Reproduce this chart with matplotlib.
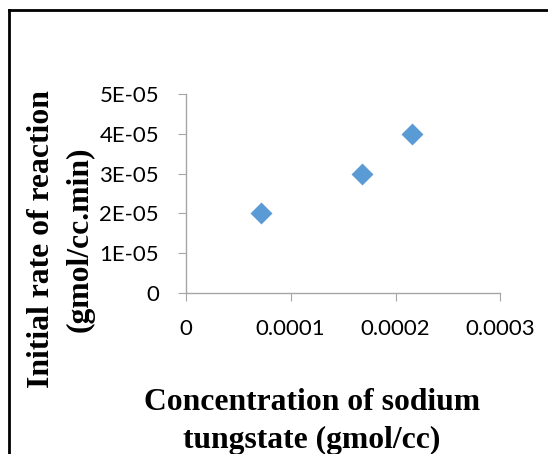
import matplotlib
matplotlib.use("Agg")
import matplotlib.pyplot as plt
from matplotlib.lines import Line2D

# Data
concentration = [0.0000715, 0.000168, 0.0002155]
rate = [0.00002, 0.00003, 0.00004]
x_ticks = [0, 0.0001, 0.0002, 0.0003]
x_tick_labels = ["0", "0.0001", "0.0002", "0.0003"]
y_ticks = [0, 0.00001, 0.00002, 0.00003, 0.00004, 0.00005]
y_tick_labels = ["0", "1E-05", "2E-05", "3E-05", "4E-05", "5E-05"]

W, H = 548, 454
fig = plt.figure(figsize=(W / 100, H / 100), dpi=100)

# axes placement in pixels
x0, x1 = 185.5, 500.5
y_top, y_bot = 94.0, 292.8
ax = fig.add_axes([x0 / W, 1 - y_bot / H, (x1 - x0) / W, (y_bot - y_top) / H])

ax.scatter(concentration, rate, marker="D", s=125, color="#5B9BD5", zorder=3,
           linewidths=0)

ax.set_xlim(0, 0.0003)
ax.set_ylim(0, 0.00005)
ax.set_xticks(x_ticks)
ax.set_xticklabels(x_tick_labels)
ax.set_yticks(y_ticks)
ax.set_yticklabels(y_tick_labels)

for s in ["top", "right"]:
    ax.spines[s].set_visible(False)
for s in ["left", "bottom"]:
    ax.spines[s].set_color("#A6A6A6")
    ax.spines[s].set_linewidth(1.0)

ax.tick_params(axis="y", direction="out", length=6, color="#A6A6A6", pad=13,
               labelsize=16, labelcolor="black")
ax.tick_params(axis="x", direction="out", length=6, color="#A6A6A6", pad=13,
               labelsize=16, labelcolor="black")
for lab in ax.get_xticklabels() + ax.get_yticklabels():
    lab.set_fontfamily("Lato")

# Axis titles as figure text
fs = 22.8
fig.text(42 / W, 1 - 239 / H, "Initial rate of reaction", rotation=90,
         ha="center", va="center", fontsize=fs, fontweight="bold",
         family="Liberation Serif")
fig.text(80 / W, 1 - 239 / H, "(gmol/cc.min)", rotation=90,
         ha="center", va="center", fontsize=fs, fontweight="bold",
         family="Liberation Serif")
fig.text(312 / W, 1 - 402 / H, "Concentration of sodium",
         ha="center", va="center", fontsize=fs, fontweight="bold",
         family="Liberation Serif")
fig.text(312 / W, 1 - 440 / H, "tungstate (gmol/cc)",
         ha="center", va="center", fontsize=fs, fontweight="bold",
         family="Liberation Serif")

# Chart frame (top and left visible)
fig.add_artist(Line2D([9 / W, 1.0], [1 - 10 / H, 1 - 10 / H],
                      transform=fig.transFigure, color="black", linewidth=2))
fig.add_artist(Line2D([9 / W, 9 / W], [1 - 10 / H, 0],
                      transform=fig.transFigure, color="black", linewidth=2))

fig.savefig("out.png", dpi=100)
